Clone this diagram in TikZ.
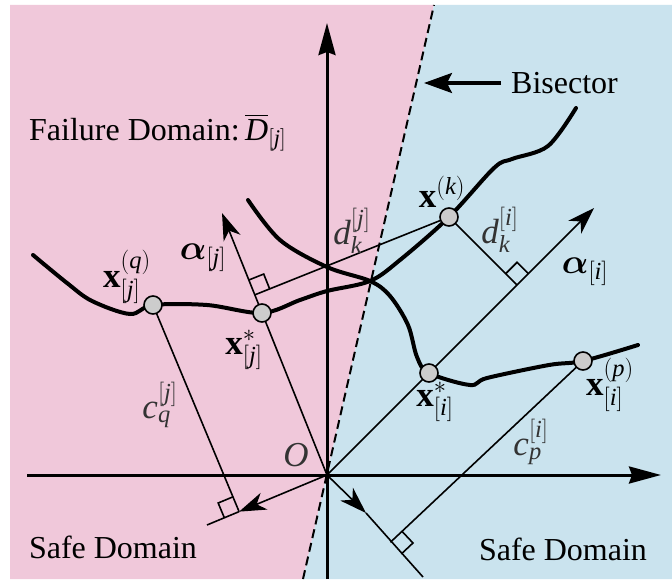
\RequirePackage{fix-cm}
\documentclass[tikz,border=0pt]{standalone}
\usepackage{amsmath}
\usepackage{fontspec}
\setmainfont{Liberation Serif}
\usetikzlibrary{arrows.meta,calc}
\definecolor{failpink}{HTML}{F0C8DA}
\definecolor{safeblue}{HTML}{CAE3EE}
% right angle mark at foot #1, sides towards #2 and #3
\newcommand{\rtmark}[3]{\draw[thinln] ($(#1)!16pt!(#2)$) -- ($(#1)!16pt!(#2)+(#1)!16pt!(#3)-(#1)$) -- ($(#1)!16pt!(#3)$);}

\begin{document}
\begin{tikzpicture}[x=1pt,y=-1pt,
    thinln/.style={line width=1.6pt},
    axis/.style={line width=3pt,-{Stealth[length=32pt,width=17pt,inset=3pt]}},
    vec/.style={line width=1.6pt,-{Stealth[length=27pt,width=18pt,inset=8pt]}},
    surf/.style={line width=4pt,line cap=round},
    pt/.style={circle,draw,fill=black!20,line width=1.6pt,minimum size=18pt,inner sep=0pt},
    lbl/.style={font=\fontsize{35}{40}\selectfont,inner sep=0pt},
    glbl/.style={lbl,text=black!80},
    txt/.style={font=\fontsize{32}{38}\selectfont,inner sep=0pt}
  ]
  % domains
  \coordinate (bistop) at (434,5);
  \coordinate (bisbot) at (303,579);
  \fill[white] (0,0) rectangle (672,579);
  \fill[failpink] (10,5) -- (bistop) -- (bisbot) -- (10,579) -- cycle;
  \fill[safeblue] (bistop) -- (672,5) -- (672,579) -- (bisbot) -- cycle;

  % axes
  \coordinate (O) at (327,475);
  \coordinate (xl) at (27,475);
  \coordinate (xr) at (661,475);
  \coordinate (yb) at (327,579);
  \coordinate (yt) at (327,23);
  \draw[axis] (xl) -- (xr);
  \draw[axis] (yb) -- (yt);
  \draw[line width=2pt,dash pattern=on 9pt off 5pt] (bisbot) -- (bistop);

  % directions
  \coordinate (ajtip) at (222,213);
  \coordinate (aitip) at (594,208);
  \coordinate (cqend) at (207,525);
  \coordinate (cpend) at (423,577);
  \coordinate (cparr) at (366,513);

  % points
  \coordinate (xq) at (153,305);
  \coordinate (xj) at (262,313);
  \coordinate (xk) at (449,217);
  \coordinate (xi) at (429,373);
  \coordinate (xp) at (583,361);

  % feet
  \coordinate (djfoot) at ($(O)!(xk)!(ajtip)$);
  \coordinate (difoot) at ($(O)!(xk)!(aitip)$);
  \coordinate (cqfoot) at ($(O)!(xq)!(cqend)$);
  \coordinate (cpfoot) at ($(O)!(xp)!(cpend)$);

  \draw[vec] (O) -- (ajtip);
  \draw[vec] (O) -- (aitip);
  \draw[vec] (O) -- (cqfoot);
  \draw[thinln] (cqfoot) -- (cqend);
  \draw[vec] (O) -- (cparr);
  \draw[thinln] (cparr) -- (cpend);
  \draw[thinln] (xk) -- (djfoot);
  \draw[thinln] (xk) -- (difoot);
  \draw[thinln] (xq) -- (cqfoot);
  \draw[thinln] (xp) -- (cpfoot);
  \rtmark{djfoot}{ajtip}{xk}
  \rtmark{difoot}{xk}{aitip}
  \rtmark{cqfoot}{xq}{cqend}
  \rtmark{cpfoot}{xp}{cpend}

  % limit state surfaces
  \draw[surf] plot[smooth,tension=0.55] coordinates {(33,255) (67,283) (92,301) (130,314) (xq) (207,305) (xj) (300,300) (327,291) (370,281) (400,260) (xk) (494,168) (512,159) (548,146) (576,108)};
  \draw[surf] plot[smooth,tension=0.55] coordinates {(248,200) (280,240) (327,267) (370,281) (390,296) (408,325) (417,357) (xi) (470,385) (487,378) (549,365) (xp) (638,345)};

  \foreach \p in {xq,xj,xk,xi,xp}
    \node[pt] (n\p) at (\p) {};

  % labels
  \node[lbl] (lxq) at (127,277) {$\mathbf{x}_{[\mathit{j}]}^{(\mathit{q})}$};
  \node[lbl] (laj) at (203,258) {$\boldsymbol{\alpha}_{[\mathit{j}]}$};
  \node[lbl] (lxj) at (244,350) {$\mathbf{x}_{[\mathit{j}]}^{\mathbf{*}}$};
  \node[glbl] (lcq) at (160,405) {$\mathit{c}_{\mathit{q}}^{[\mathit{j}]}$};
  \node[glbl] (lO) at (296,455) {$\mathit{O}$};
  \node[glbl] (ldj) at (352,231) {$\mathit{d}_{\mathit{k}}^{[\mathit{j}]}$};
  \node[lbl] (lxk) at (442,192) {$\mathbf{x}^{(\mathit{k})}$};
  \node[glbl] (ldi) at (500,230) {$\mathit{d}_{\mathit{k}}^{[\mathit{i}]}$};
  \node[lbl] (lai) at (585,272) {$\boldsymbol{\alpha}_{[\mathit{i}]}$};
  \node[lbl] (lxi) at (435,402) {$\mathbf{x}_{[\mathit{i}]}^{\mathbf{*}}$};
  \node[lbl] (lxp) at (610,385) {$\mathbf{x}_{[\mathit{i}]}^{(\mathit{p})}$};
  \node[glbl] (lcp) at (531,442) {$\mathit{c}_{\mathit{p}}^{[\mathit{i}]}$};

  \node[txt,anchor=base west] (fail) at (29,140) {Failure Domain:\,$\overline{\mathit{D}}_{[\mathit{j}]}$};
  \node[txt] (safel) at (113,547) {Safe Domain};
  \node[txt] (safer) at (563,549) {Safe Domain};
  \node[txt,anchor=west] (bis) at (511,83) {Bisector};
  \coordinate (bisptr) at (424,83);
  \draw[line width=3pt,-{Stealth[length=28pt,width=20pt,inset=5pt]}] (bis.west) ++(-10,0) -- (bisptr);
\end{tikzpicture}
\end{document}
